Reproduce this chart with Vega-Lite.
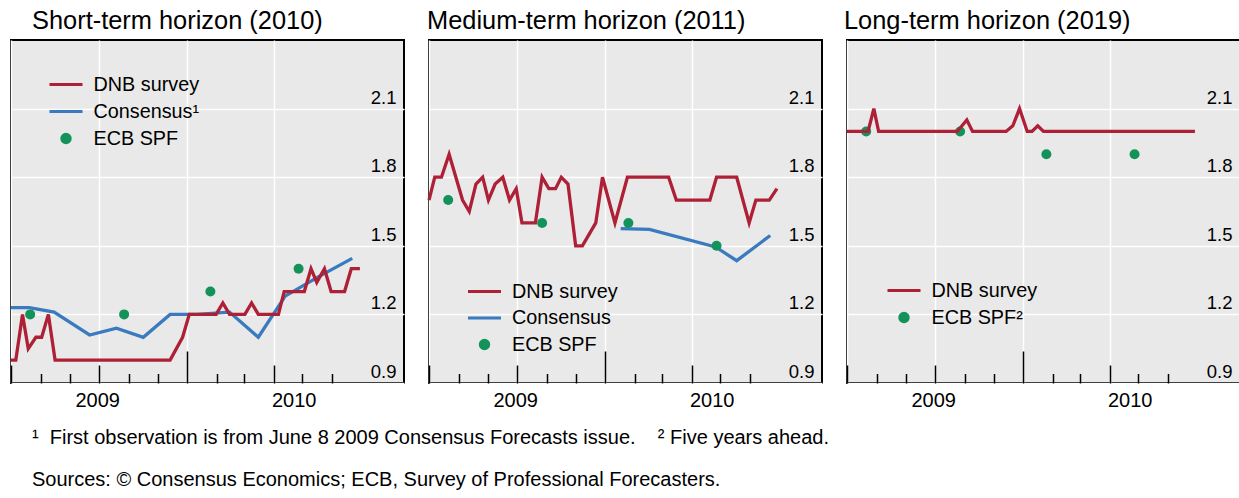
{
  "$schema": "https://vega.github.io/schema/vega-lite/v6.json",
  "padding": {"left": 3, "top": 8, "right": 0, "bottom": 0},
  "spacing": 25,
  "bounds": "flush",
  "data": {"values": [
    {"panel": "short", "series": "DNB survey", "date": "2009-07-01", "value": 1.0},
    {"panel": "short", "series": "DNB survey", "date": "2009-07-06", "value": 1.0},
    {"panel": "short", "series": "DNB survey", "date": "2009-07-13", "value": 1.2},
    {"panel": "short", "series": "DNB survey", "date": "2009-07-19", "value": 1.05},
    {"panel": "short", "series": "DNB survey", "date": "2009-07-27", "value": 1.1},
    {"panel": "short", "series": "DNB survey", "date": "2009-08-02", "value": 1.1},
    {"panel": "short", "series": "DNB survey", "date": "2009-08-09", "value": 1.2},
    {"panel": "short", "series": "DNB survey", "date": "2009-08-16", "value": 1.0},
    {"panel": "short", "series": "DNB survey", "date": "2009-12-14", "value": 1.0},
    {"panel": "short", "series": "DNB survey", "date": "2009-12-27", "value": 1.1},
    {"panel": "short", "series": "DNB survey", "date": "2010-01-03", "value": 1.2},
    {"panel": "short", "series": "DNB survey", "date": "2010-01-31", "value": 1.2},
    {"panel": "short", "series": "DNB survey", "date": "2010-02-07", "value": 1.25},
    {"panel": "short", "series": "DNB survey", "date": "2010-02-14", "value": 1.2},
    {"panel": "short", "series": "DNB survey", "date": "2010-03-02", "value": 1.2},
    {"panel": "short", "series": "DNB survey", "date": "2010-03-09", "value": 1.25},
    {"panel": "short", "series": "DNB survey", "date": "2010-03-16", "value": 1.2},
    {"panel": "short", "series": "DNB survey", "date": "2010-04-06", "value": 1.2},
    {"panel": "short", "series": "DNB survey", "date": "2010-04-12", "value": 1.3},
    {"panel": "short", "series": "DNB survey", "date": "2010-05-03", "value": 1.3},
    {"panel": "short", "series": "DNB survey", "date": "2010-05-10", "value": 1.4},
    {"panel": "short", "series": "DNB survey", "date": "2010-05-16", "value": 1.34},
    {"panel": "short", "series": "DNB survey", "date": "2010-05-24", "value": 1.4},
    {"panel": "short", "series": "DNB survey", "date": "2010-05-31", "value": 1.3},
    {"panel": "short", "series": "DNB survey", "date": "2010-06-14", "value": 1.3},
    {"panel": "short", "series": "DNB survey", "date": "2010-06-21", "value": 1.4},
    {"panel": "short", "series": "DNB survey", "date": "2010-06-30", "value": 1.4},
    {"panel": "short", "series": "Consensus", "date": "2009-07-01", "value": 1.23},
    {"panel": "short", "series": "Consensus", "date": "2009-07-20", "value": 1.23},
    {"panel": "short", "series": "Consensus", "date": "2009-08-15", "value": 1.21},
    {"panel": "short", "series": "Consensus", "date": "2009-09-21", "value": 1.11},
    {"panel": "short", "series": "Consensus", "date": "2009-10-19", "value": 1.14},
    {"panel": "short", "series": "Consensus", "date": "2009-11-16", "value": 1.10},
    {"panel": "short", "series": "Consensus", "date": "2009-12-14", "value": 1.20},
    {"panel": "short", "series": "Consensus", "date": "2010-01-11", "value": 1.20},
    {"panel": "short", "series": "Consensus", "date": "2010-02-14", "value": 1.21},
    {"panel": "short", "series": "Consensus", "date": "2010-03-16", "value": 1.10},
    {"panel": "short", "series": "Consensus", "date": "2010-04-13", "value": 1.28},
    {"panel": "short", "series": "Consensus", "date": "2010-05-18", "value": 1.365},
    {"panel": "short", "series": "Consensus", "date": "2010-06-22", "value": 1.445},
    {"panel": "short", "series": "ECB SPF", "date": "2009-07-21", "value": 1.2},
    {"panel": "short", "series": "ECB SPF", "date": "2009-10-27", "value": 1.2},
    {"panel": "short", "series": "ECB SPF", "date": "2010-01-25", "value": 1.3},
    {"panel": "short", "series": "ECB SPF", "date": "2010-04-27", "value": 1.4},
    {"panel": "medium", "series": "DNB survey", "date": "2009-07-01", "value": 1.7},
    {"panel": "medium", "series": "DNB survey", "date": "2009-07-07", "value": 1.8},
    {"panel": "medium", "series": "DNB survey", "date": "2009-07-14", "value": 1.8},
    {"panel": "medium", "series": "DNB survey", "date": "2009-07-22", "value": 1.9},
    {"panel": "medium", "series": "DNB survey", "date": "2009-08-05", "value": 1.7},
    {"panel": "medium", "series": "DNB survey", "date": "2009-08-12", "value": 1.65},
    {"panel": "medium", "series": "DNB survey", "date": "2009-08-19", "value": 1.77},
    {"panel": "medium", "series": "DNB survey", "date": "2009-08-26", "value": 1.8},
    {"panel": "medium", "series": "DNB survey", "date": "2009-09-01", "value": 1.7},
    {"panel": "medium", "series": "DNB survey", "date": "2009-09-08", "value": 1.77},
    {"panel": "medium", "series": "DNB survey", "date": "2009-09-16", "value": 1.8},
    {"panel": "medium", "series": "DNB survey", "date": "2009-09-23", "value": 1.7},
    {"panel": "medium", "series": "DNB survey", "date": "2009-09-30", "value": 1.75},
    {"panel": "medium", "series": "DNB survey", "date": "2009-10-06", "value": 1.6},
    {"panel": "medium", "series": "DNB survey", "date": "2009-10-20", "value": 1.6},
    {"panel": "medium", "series": "DNB survey", "date": "2009-10-27", "value": 1.8},
    {"panel": "medium", "series": "DNB survey", "date": "2009-11-03", "value": 1.75},
    {"panel": "medium", "series": "DNB survey", "date": "2009-11-10", "value": 1.75},
    {"panel": "medium", "series": "DNB survey", "date": "2009-11-16", "value": 1.8},
    {"panel": "medium", "series": "DNB survey", "date": "2009-11-23", "value": 1.77},
    {"panel": "medium", "series": "DNB survey", "date": "2009-12-01", "value": 1.5},
    {"panel": "medium", "series": "DNB survey", "date": "2009-12-08", "value": 1.5},
    {"panel": "medium", "series": "DNB survey", "date": "2009-12-22", "value": 1.6},
    {"panel": "medium", "series": "DNB survey", "date": "2009-12-29", "value": 1.8},
    {"panel": "medium", "series": "DNB survey", "date": "2010-01-11", "value": 1.6},
    {"panel": "medium", "series": "DNB survey", "date": "2010-01-24", "value": 1.8},
    {"panel": "medium", "series": "DNB survey", "date": "2010-03-08", "value": 1.8},
    {"panel": "medium", "series": "DNB survey", "date": "2010-03-16", "value": 1.7},
    {"panel": "medium", "series": "DNB survey", "date": "2010-04-20", "value": 1.7},
    {"panel": "medium", "series": "DNB survey", "date": "2010-04-27", "value": 1.8},
    {"panel": "medium", "series": "DNB survey", "date": "2010-05-18", "value": 1.8},
    {"panel": "medium", "series": "DNB survey", "date": "2010-05-31", "value": 1.6},
    {"panel": "medium", "series": "DNB survey", "date": "2010-06-07", "value": 1.7},
    {"panel": "medium", "series": "DNB survey", "date": "2010-06-21", "value": 1.7},
    {"panel": "medium", "series": "DNB survey", "date": "2010-06-29", "value": 1.75},
    {"panel": "medium", "series": "Consensus", "date": "2010-01-17", "value": 1.575},
    {"panel": "medium", "series": "Consensus", "date": "2010-02-16", "value": 1.572},
    {"panel": "medium", "series": "Consensus", "date": "2010-04-26", "value": 1.495},
    {"panel": "medium", "series": "Consensus", "date": "2010-05-18", "value": 1.435},
    {"panel": "medium", "series": "Consensus", "date": "2010-06-22", "value": 1.545},
    {"panel": "medium", "series": "ECB SPF", "date": "2009-07-21", "value": 1.7},
    {"panel": "medium", "series": "ECB SPF", "date": "2009-10-27", "value": 1.6},
    {"panel": "medium", "series": "ECB SPF", "date": "2010-01-25", "value": 1.6},
    {"panel": "medium", "series": "ECB SPF", "date": "2010-04-27", "value": 1.5},
    {"panel": "long", "series": "DNB survey", "date": "2009-07-01", "value": 2.0},
    {"panel": "long", "series": "DNB survey", "date": "2009-07-23", "value": 2.0},
    {"panel": "long", "series": "DNB survey", "date": "2009-07-29", "value": 2.1},
    {"panel": "long", "series": "DNB survey", "date": "2009-08-03", "value": 2.0},
    {"panel": "long", "series": "DNB survey", "date": "2009-10-24", "value": 2.0},
    {"panel": "long", "series": "DNB survey", "date": "2009-11-03", "value": 2.05},
    {"panel": "long", "series": "DNB survey", "date": "2009-11-09", "value": 2.0},
    {"panel": "long", "series": "DNB survey", "date": "2009-12-14", "value": 2.0},
    {"panel": "long", "series": "DNB survey", "date": "2009-12-21", "value": 2.025},
    {"panel": "long", "series": "DNB survey", "date": "2009-12-28", "value": 2.1},
    {"panel": "long", "series": "DNB survey", "date": "2010-01-05", "value": 2.0},
    {"panel": "long", "series": "DNB survey", "date": "2010-01-10", "value": 2.0},
    {"panel": "long", "series": "DNB survey", "date": "2010-01-16", "value": 2.025},
    {"panel": "long", "series": "DNB survey", "date": "2010-01-22", "value": 2.0},
    {"panel": "long", "series": "DNB survey", "date": "2010-06-29", "value": 2.0},
    {"panel": "long", "series": "ECB SPF", "date": "2009-07-21", "value": 2.0},
    {"panel": "long", "series": "ECB SPF", "date": "2009-10-27", "value": 2.0},
    {"panel": "long", "series": "ECB SPF", "date": "2010-01-25", "value": 1.9},
    {"panel": "long", "series": "ECB SPF", "date": "2010-04-27", "value": 1.9}
  ]},
  "title": {
    "text": ["¹\u00a0 First observation is from June 8 2009 Consensus Forecasts issue.\u00a0\u00a0\u00a0 ² Five years ahead.", "Sources: © Consensus Economics; ECB, Survey of Professional Forecasters."],
    "orient": "bottom", "anchor": "start", "align": "left", "baseline": "alphabetic", "frame": "group",
    "lineHeight": 42, "fontSize": 20, "font": "Liberation Sans", "fontWeight": "normal",
    "color": "black", "offset": 24, "dx": 21
  },
  "resolve": {"scale": {"color": "independent"}, "legend": {"color": "independent"}},
  "hconcat": [
    {
      "width": 393, "height": 343,
      "title": {"text": "Short-term horizon (2010)", "dx": 21},
      "encoding": {
        "x": {"field": "date", "type": "temporal",
          "scale": {"type": "utc", "domain": [{"year": 2009, "month": 7, "date": 1, "utc": true}, {"year": 2010, "month": 8, "date": 15, "utc": true}]},
          "axis": {
            "values": [{"year": 2009, "month": 7, "date": 1, "utc": true}, {"year": 2009, "month": 8, "date": 1, "utc": true}, {"year": 2009, "month": 9, "date": 1, "utc": true}, {"year": 2009, "month": 10, "date": 1, "utc": true}, {"year": 2009, "month": 11, "date": 1, "utc": true}, {"year": 2009, "month": 12, "date": 1, "utc": true}, {"year": 2010, "month": 1, "date": 1, "utc": true}, {"year": 2010, "month": 2, "date": 1, "utc": true}, {"year": 2010, "month": 3, "date": 1, "utc": true}, {"year": 2010, "month": 4, "date": 1, "utc": true}, {"year": 2010, "month": 5, "date": 1, "utc": true}, {"year": 2010, "month": 6, "date": 1, "utc": true}],
            "title": null, "domain": false,
            "grid": true, "gridColor": "white", "gridWidth": 1.5,
            "gridOpacity": {"expr": "utcmonth(datum.value) % 3 == 0 ? 1 : 0"},
            "ticks": true, "tickColor": "black", "tickWidth": 1.5,
            "tickSize": {"expr": "utcmonth(datum.value) == 0 ? -32 : (utcmonth(datum.value) % 3 == 0 ? -18 : -9.5)"},
            "labelExpr": "utcmonth(datum.value) == 9 ? '2009' : (utcmonth(datum.value) == 3 ? '2010' : '')",
            "labelOffset": {"expr": "utcmonth(datum.value) == 3 ? 20 : -2"},
            "labelPadding": 41, "labelBaseline": "alphabetic", "labelAlign": "center",
            "labelFontSize": 20, "labelOverlap": false, "labelFlush": false
          }},
        "y": {"field": "value", "type": "quantitative",
          "scale": {"domain": [0.9, 2.4], "nice": false, "zero": false},
          "axis": {"orient": "right", "values": [0.9, 1.2, 1.5, 1.8, 2.1], "format": ".1f", "title": null,
            "domain": false, "ticks": false, "grid": true, "gridColor": "white", "gridWidth": 1.5,
            "labelAlign": "right", "labelBaseline": "alphabetic", "labelPadding": -8, "labelOffset": -5.5,
            "labelFontSize": 18.5, "labelFlush": false, "labelOverlap": false}},
        "color": {"field": "series", "type": "nominal",
          "scale": {"domain": ["DNB survey", "Consensus", "ECB SPF"], "range": ["#ae2035", "#3a7abf", "#13935a"]},
          "legend": {"title": null, "orient": "none", "legendX": 43.5, "legendY": 33, "direction": "vertical",
            "padding": 0, "symbolSize": 400, "symbolStrokeWidth": 3, "symbolOpacity": 1,
            "labelFontSize": 19.8, "labelFont": "Liberation Sans", "labelColor": "black", "labelOffset": 16, "rowPadding": 5,
            "labelExpr": "datum.label == 'Consensus' ? 'Consensus¹' : datum.label",
            "encode": {"symbols": {"update": {
              "shape": {"signal": "datum.value == 'ECB SPF' ? 'M-0.42,0A0.42,0.42 0 1,0 0.42,0A0.42,0.42 0 1,0 -0.42,0Z' : 'M-1.65,0H1.65'"},
              "fill": {"signal": "datum.value == 'ECB SPF' ? '#13935a' : (datum.value == 'Consensus' ? '#3a7abf' : '#ae2035')"},
              "stroke": {"signal": "datum.value == 'ECB SPF' ? '#13935a' : (datum.value == 'Consensus' ? '#3a7abf' : '#ae2035')"}
            }}}}}
      },
      "layer": [
        {"transform": [{"filter": "datum.panel == 'short' && datum.series == 'Consensus'"}], "mark": {"type": "line", "strokeWidth": 3.3}},
        {"transform": [{"filter": "datum.panel == 'short' && datum.series == 'ECB SPF'"}], "mark": {"type": "point", "filled": true, "size": 100, "opacity": 1}},
        {"transform": [{"filter": "datum.panel == 'short' && datum.series == 'DNB survey'"}], "mark": {"type": "line", "strokeWidth": 3.3}}
      ]
    },
    {
      "width": 393, "height": 343,
      "title": {"text": "Medium-term horizon (2011)", "dx": -2},
      "encoding": {
        "x": {"field": "date", "type": "temporal",
          "scale": {"type": "utc", "domain": [{"year": 2009, "month": 7, "date": 1, "utc": true}, {"year": 2010, "month": 8, "date": 15, "utc": true}]},
          "axis": {
            "values": [{"year": 2009, "month": 7, "date": 1, "utc": true}, {"year": 2009, "month": 8, "date": 1, "utc": true}, {"year": 2009, "month": 9, "date": 1, "utc": true}, {"year": 2009, "month": 10, "date": 1, "utc": true}, {"year": 2009, "month": 11, "date": 1, "utc": true}, {"year": 2009, "month": 12, "date": 1, "utc": true}, {"year": 2010, "month": 1, "date": 1, "utc": true}, {"year": 2010, "month": 2, "date": 1, "utc": true}, {"year": 2010, "month": 3, "date": 1, "utc": true}, {"year": 2010, "month": 4, "date": 1, "utc": true}, {"year": 2010, "month": 5, "date": 1, "utc": true}, {"year": 2010, "month": 6, "date": 1, "utc": true}],
            "title": null, "domain": false,
            "grid": true, "gridColor": "white", "gridWidth": 1.5,
            "gridOpacity": {"expr": "utcmonth(datum.value) % 3 == 0 ? 1 : 0"},
            "ticks": true, "tickColor": "black", "tickWidth": 1.5,
            "tickSize": {"expr": "utcmonth(datum.value) == 0 ? -32 : (utcmonth(datum.value) % 3 == 0 ? -18 : -9.5)"},
            "labelExpr": "utcmonth(datum.value) == 9 ? '2009' : (utcmonth(datum.value) == 3 ? '2010' : '')",
            "labelOffset": {"expr": "utcmonth(datum.value) == 3 ? 20 : -2"},
            "labelPadding": 41, "labelBaseline": "alphabetic", "labelAlign": "center",
            "labelFontSize": 20, "labelOverlap": false, "labelFlush": false
          }},
        "y": {"field": "value", "type": "quantitative",
          "scale": {"domain": [0.9, 2.4], "nice": false, "zero": false},
          "axis": {"orient": "right", "values": [0.9, 1.2, 1.5, 1.8, 2.1], "format": ".1f", "title": null,
            "domain": false, "ticks": false, "grid": true, "gridColor": "white", "gridWidth": 1.5,
            "labelAlign": "right", "labelBaseline": "alphabetic", "labelPadding": -8, "labelOffset": -5.5,
            "labelFontSize": 18.5, "labelFlush": false, "labelOverlap": false}},
        "color": {"field": "series", "type": "nominal",
          "scale": {"domain": ["DNB survey", "Consensus", "ECB SPF"], "range": ["#ae2035", "#3a7abf", "#13935a"]},
          "legend": {"title": null, "orient": "none", "legendX": 44, "legendY": 240, "direction": "vertical",
            "padding": 0, "symbolSize": 400, "symbolStrokeWidth": 3, "symbolOpacity": 1,
            "labelFontSize": 19.8, "labelFont": "Liberation Sans", "labelColor": "black", "labelOffset": 16, "rowPadding": 4.5,
            "encode": {"symbols": {"update": {
              "shape": {"signal": "datum.value == 'ECB SPF' ? 'M-0.42,0A0.42,0.42 0 1,0 0.42,0A0.42,0.42 0 1,0 -0.42,0Z' : 'M-1.65,0H1.65'"},
              "fill": {"signal": "datum.value == 'ECB SPF' ? '#13935a' : (datum.value == 'Consensus' ? '#3a7abf' : '#ae2035')"},
              "stroke": {"signal": "datum.value == 'ECB SPF' ? '#13935a' : (datum.value == 'Consensus' ? '#3a7abf' : '#ae2035')"}
            }}}}}
      },
      "layer": [
        {"transform": [{"filter": "datum.panel == 'medium' && datum.series == 'Consensus'"}], "mark": {"type": "line", "strokeWidth": 3.3}},
        {"transform": [{"filter": "datum.panel == 'medium' && datum.series == 'ECB SPF'"}], "mark": {"type": "point", "filled": true, "size": 100, "opacity": 1}},
        {"transform": [{"filter": "datum.panel == 'medium' && datum.series == 'DNB survey'"}], "mark": {"type": "line", "strokeWidth": 3.3}}
      ]
    },
    {
      "width": 393, "height": 343,
      "title": {"text": "Long-term horizon (2019)", "dx": -3},
      "encoding": {
        "x": {"field": "date", "type": "temporal",
          "scale": {"type": "utc", "domain": [{"year": 2009, "month": 7, "date": 1, "utc": true}, {"year": 2010, "month": 8, "date": 15, "utc": true}]},
          "axis": {
            "values": [{"year": 2009, "month": 7, "date": 1, "utc": true}, {"year": 2009, "month": 8, "date": 1, "utc": true}, {"year": 2009, "month": 9, "date": 1, "utc": true}, {"year": 2009, "month": 10, "date": 1, "utc": true}, {"year": 2009, "month": 11, "date": 1, "utc": true}, {"year": 2009, "month": 12, "date": 1, "utc": true}, {"year": 2010, "month": 1, "date": 1, "utc": true}, {"year": 2010, "month": 2, "date": 1, "utc": true}, {"year": 2010, "month": 3, "date": 1, "utc": true}, {"year": 2010, "month": 4, "date": 1, "utc": true}, {"year": 2010, "month": 5, "date": 1, "utc": true}, {"year": 2010, "month": 6, "date": 1, "utc": true}],
            "title": null, "domain": false,
            "grid": true, "gridColor": "white", "gridWidth": 1.5,
            "gridOpacity": {"expr": "utcmonth(datum.value) % 3 == 0 ? 1 : 0"},
            "ticks": true, "tickColor": "black", "tickWidth": 1.5,
            "tickSize": {"expr": "utcmonth(datum.value) == 0 ? -32 : (utcmonth(datum.value) % 3 == 0 ? -18 : -9.5)"},
            "labelExpr": "utcmonth(datum.value) == 9 ? '2009' : (utcmonth(datum.value) == 3 ? '2010' : '')",
            "labelOffset": {"expr": "utcmonth(datum.value) == 3 ? 20 : -2"},
            "labelPadding": 41, "labelBaseline": "alphabetic", "labelAlign": "center",
            "labelFontSize": 20, "labelOverlap": false, "labelFlush": false
          }},
        "y": {"field": "value", "type": "quantitative",
          "scale": {"domain": [0.9, 2.4], "nice": false, "zero": false},
          "axis": {"orient": "right", "values": [0.9, 1.2, 1.5, 1.8, 2.1], "format": ".1f", "title": null,
            "domain": false, "ticks": false, "grid": true, "gridColor": "white", "gridWidth": 1.5,
            "labelAlign": "right", "labelBaseline": "alphabetic", "labelPadding": -8, "labelOffset": -5.5,
            "labelFontSize": 18.5, "labelFlush": false, "labelOverlap": false}},
        "color": {"field": "series", "type": "nominal",
          "scale": {"domain": ["DNB survey", "ECB SPF"], "range": ["#ae2035", "#13935a"]},
          "legend": {"title": null, "orient": "none", "legendX": 45.5, "legendY": 239, "direction": "vertical",
            "padding": 0, "symbolSize": 400, "symbolStrokeWidth": 3, "symbolOpacity": 1,
            "labelFontSize": 19.8, "labelFont": "Liberation Sans", "labelColor": "black", "labelOffset": 16, "rowPadding": 5,
            "labelExpr": "datum.label == 'ECB SPF' ? 'ECB SPF²' : datum.label",
            "encode": {"symbols": {"update": {
              "shape": {"signal": "datum.value == 'ECB SPF' ? 'M-0.42,0A0.42,0.42 0 1,0 0.42,0A0.42,0.42 0 1,0 -0.42,0Z' : 'M-1.65,0H1.65'"},
              "fill": {"signal": "datum.value == 'ECB SPF' ? '#13935a' : '#ae2035'"},
              "stroke": {"signal": "datum.value == 'ECB SPF' ? '#13935a' : '#ae2035'"}
            }}}}}
      },
      "layer": [
        {"transform": [{"filter": "datum.panel == 'long' && datum.series == 'ECB SPF'"}], "mark": {"type": "point", "filled": true, "size": 100, "opacity": 1}},
        {"transform": [{"filter": "datum.panel == 'long' && datum.series == 'DNB survey'"}], "mark": {"type": "line", "strokeWidth": 3.3}}
      ]
    }
  ],
  "config": {
    "font": "Liberation Sans",
    "background": "white",
    "view": {"fill": "#e9e9e9", "stroke": "black", "strokeWidth": 2},
    "title": {"font": "Liberation Sans", "fontSize": 25.4, "fontWeight": "normal", "color": "black", "anchor": "start", "frame": "group", "baseline": "alphabetic", "offset": 5.5},
    "axis": {"labelFont": "Liberation Sans", "labelColor": "black"},
    "legend": {"labelFont": "Liberation Sans"}
  }
}
